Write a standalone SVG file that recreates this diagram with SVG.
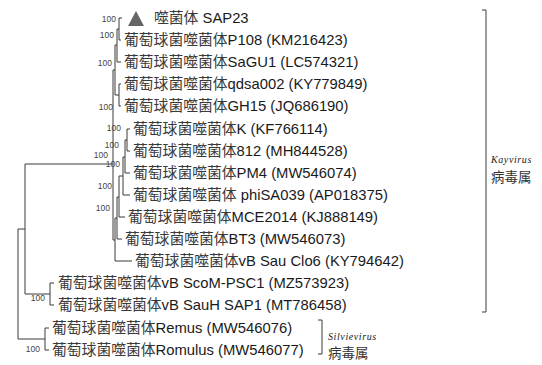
<svg xmlns="http://www.w3.org/2000/svg" width="542" height="365" viewBox="0 0 542 365">
<style>
.bg{fill:#fff}
.ln{stroke:#3a3a3a;stroke-width:1;fill:none}
.lab{font-family:"Liberation Sans","Noto Sans CJK SC",sans-serif;font-size:14.8px;fill:#1a1a1a}
.cj{fill:#3a3a3a}
.bs{font-family:"Liberation Sans",sans-serif;font-size:8.5px;fill:#444;text-anchor:end}
.gen{font-family:"Liberation Serif",serif;font-style:italic;font-size:10px;fill:#222;letter-spacing:0.6px}
.shu{font-family:"Noto Sans CJK SC",sans-serif;font-size:13.5px;fill:#333}
</style>
<rect class="bg" x="0" y="0" width="542" height="365"/>
<g id="connectors">
<path class="ln" d="M119,18V40M119,18H122M119,40H121"/>
<path class="ln" d="M117,29V62M117,29H119M117,62H121"/>
<path class="ln" d="M119,84V106M119,84H121M119,106H121"/>
<path class="ln" d="M115,45V95M115,45H117M115,95H119"/>
<path class="ln" d="M127,129V151M127,129H130M127,151H130"/>
<path class="ln" d="M125,140V173M125,140H127M125,173H130"/>
<path class="ln" d="M123,157V195M123,157H125M123,195H130"/>
<path class="ln" d="M119,176V217M119,176H123M119,217H125"/>
<path class="ln" d="M117,197V239M117,197H119M117,239H122"/>
<path class="ln" d="M115,218V261M115,218H117M115,261H132"/>
<path class="ln" d="M113,70V240M113,70H115M113,240H115"/>
<path class="ln" d="M25,164V294M25,164H113M25,294H50"/>
<path class="ln" d="M50,283V305M50,283H54M50,305H54"/>
<path class="ln" d="M18,229V339M18,229H25M18,339H45"/>
<path class="ln" d="M45,328V350M45,328H49M45,350H49"/>
<path class="ln" d="M482,10H486V312H482"/>
<path class="ln" d="M318,320H322V354H318"/>
</g>
<g id="bootstrap">
<text class="bs" x="116" y="22">100</text>
<text class="bs" x="114" y="38">100</text>
<text class="bs" x="112" y="66">100</text>
<text class="bs" x="113" y="110">100</text>
<text class="bs" x="121" y="131">100</text>
<text class="bs" x="119" y="148">100</text>
<text class="bs" x="108" y="158">100</text>
<text class="bs" x="120" y="167">100</text>
<text class="bs" x="112" y="189">100</text>
<text class="bs" x="110" y="211">100</text>
<text class="bs" x="45" y="301">100</text>
<text class="bs" x="40" y="352">100</text>
</g>
<g id="n-sap23">
<polygon points="128,26 136,11 144,26" fill="#666"/>
<text class="lab" x="154" y="23"><tspan class="cj">噬菌体</tspan> SAP23</text>
</g>
<g id="n-p108"><text class="lab" x="124" y="45"><tspan class="cj">葡萄球菌噬菌体</tspan>P108 (KM216423)</text></g>
<g id="n-sagu1"><text class="lab" x="124" y="67"><tspan class="cj">葡萄球菌噬菌体</tspan>SaGU1 (LC574321)</text></g>
<g id="n-qdsa002"><text class="lab" x="124" y="89"><tspan class="cj">葡萄球菌噬菌体</tspan>qdsa002 (KY779849)</text></g>
<g id="n-gh15"><text class="lab" x="124" y="111"><tspan class="cj">葡萄球菌噬菌体</tspan>GH15 (JQ686190)</text></g>
<g id="n-k"><text class="lab" x="133" y="134"><tspan class="cj">葡萄球菌噬菌体</tspan>K (KF766114)</text></g>
<g id="n-812"><text class="lab" x="133" y="156"><tspan class="cj">葡萄球菌噬菌体</tspan>812 (MH844528)</text></g>
<g id="n-pm4"><text class="lab" x="133" y="178"><tspan class="cj">葡萄球菌噬菌体</tspan>PM4 (MW546074)</text></g>
<g id="n-phisa039"><text class="lab" x="133" y="200"><tspan class="cj">葡萄球菌噬菌体</tspan> phiSA039 (AP018375)</text></g>
<g id="n-mce2014"><text class="lab" x="128" y="222"><tspan class="cj">葡萄球菌噬菌体</tspan>MCE2014 (KJ888149)</text></g>
<g id="n-bt3"><text class="lab" x="125" y="244"><tspan class="cj">葡萄球菌噬菌体</tspan>BT3 (MW546073)</text></g>
<g id="n-clo6"><text class="lab" x="135" y="266"><tspan class="cj">葡萄球菌噬菌体</tspan>vB Sau Clo6 (KY794642)</text></g>
<g id="n-scom"><text class="lab" x="58" y="288"><tspan class="cj">葡萄球菌噬菌体</tspan>vB ScoM-PSC1 (MZ573923)</text></g>
<g id="n-sauh"><text class="lab" x="58" y="310"><tspan class="cj">葡萄球菌噬菌体</tspan>vB SauH SAP1 (MT786458)</text></g>
<g id="n-remus"><text class="lab" x="52" y="333"><tspan class="cj">葡萄球菌噬菌体</tspan>Remus (MW546076)</text></g>
<g id="n-romulus"><text class="lab" x="52" y="355"><tspan class="cj">葡萄球菌噬菌体</tspan>Romulus (MW546077)</text></g>
<g id="g-kayvirus">
<text class="gen" x="491" y="163">Kayvirus</text>
<text class="shu" x="491" y="182">病毒属</text>
</g>
<g id="g-silvievirus">
<text class="gen" x="328" y="340">Silvievirus</text>
<text class="shu" x="328" y="358">病毒属</text>
</g>
</svg>
